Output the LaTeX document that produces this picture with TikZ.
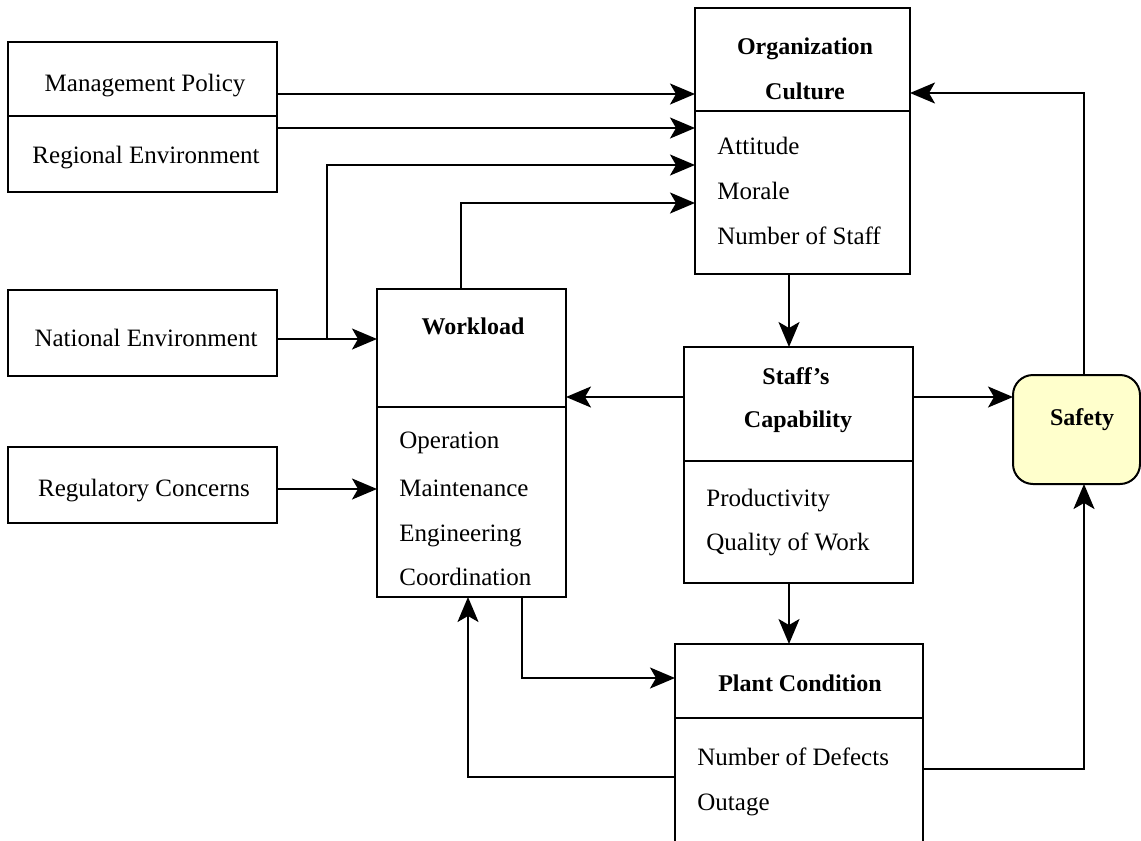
\documentclass[tikz,border=0pt]{standalone}
\usepackage{fontspec}
\setmainfont{Liberation Serif}
\usetikzlibrary{arrows.meta, positioning}
\definecolor{safetyfill}{RGB}{255,255,204}

\begin{document}
\begin{tikzpicture}[x=0.5pt, y=-0.5pt, >={Stealth[length=12.5pt, width=10.5pt, inset=3pt]},
    box/.style={draw, line width=1pt, inner sep=0pt, outer sep=0pt},
    item/.style={anchor=base west, inner sep=0pt, font=\fontsize{12.5}{15}\selectfont},
    plain/.style={anchor=base, inner sep=0pt, font=\fontsize{12.5}{15}\selectfont},
    title/.style={anchor=base, inner sep=0pt, font=\fontsize{12}{15}\selectfont\bfseries},
    link/.style={->, line width=1pt}]
    \useasboundingbox (0,0) rectangle (1141,841);
    \clip (0,0) rectangle (1141,841);

    % Outside influences
    \node[box, minimum width=134.5pt, minimum height=37pt] (mgmt) at (142.5,79) {};
    \node[box, minimum width=134.5pt, minimum height=38pt] (regional) at (142.5,154) {};
    \node[box, minimum width=134.5pt, minimum height=43pt] (national) at (142.5,333) {};
    \node[box, minimum width=134.5pt, minimum height=38pt] (regulatory) at (142.5,485) {};
    \node[plain] at (145,91) {Management Policy};
    \node[plain] at (146,163) {Regional Environment};
    \node[plain] at (146,346) {National Environment};
    \node[plain] at (144,496) {Regulatory Concerns};

    % Organization culture
    \node[box, minimum width=107.5pt, minimum height=133pt] (org) at (802.5,141) {};
    \draw[line width=1pt] (org.west |- 0,111) -- (org.east |- 0,111);
    \node[title] at (805,54) {Organization};
    \node[title] at (805,99) {Culture};
    \node[item] at (717,154) {Attitude};
    \node[item] at (717,199) {Morale};
    \node[item] at (717,244) {Number of Staff};

    % Workload
    \node[box, minimum width=94.5pt, minimum height=154pt] (workload) at (471.5,443) {};
    \draw[line width=1pt] (workload.west |- 0,407) -- (workload.east |- 0,407);
    \node[title] at (473,334) {Workload};
    \node[item] at (399,448) {Operation};
    \node[item] at (399,496) {Maintenance};
    \node[item] at (399,541) {Engineering};
    \node[item] at (399,585) {Coordination};

    % Staff's capability
    \node[box, minimum width=114.5pt, minimum height=118pt] (staff) at (798.5,465) {};
    \draw[line width=1pt] (staff.west |- 0,461) -- (staff.east |- 0,461);
    \node[title] at (796,384) {Staff’s};
    \node[title] at (798,427) {Capability};
    \node[item] at (706,506) {Productivity};
    \node[item] at (706,550) {Quality of Work};

    % Plant condition
    \node[box, minimum width=124pt, minimum height=108pt] (plant) at (799,752) {};
    \draw[line width=1pt] (plant.west |- 0,718) -- (plant.east |- 0,718);
    \node[title] at (800,691) {Plant Condition};
    \node[item] at (697,765) {Number of Defects};
    \node[item] at (697,810) {Outage};

    % Safety
    \node[box, fill=safetyfill, rounded corners=10pt, minimum width=63.5pt, minimum height=54.5pt] (safety) at (1076.5,429.5) {};
    \node[title] at (1082,425) {Safety};

    % Connectors
    \coordinate (natsplit) at (327,339);
    \draw[link] (mgmt.east |- 0,94) -- (org.west |- 0,94);
    \draw[link] (regional.east |- 0,128) -- (org.west |- 0,128);
    \draw[link] (national.east |- 0,339) -- (workload.west |- 0,339);
    \draw[link] (natsplit) |- (org.west |- 0,165);
    \draw[link] (workload.north -| 461,0) |- (org.west |- 0,203);
    \draw[link] (regulatory.east |- 0,489) -- (workload.west |- 0,489);
    \draw[link] (org.south -| 789,0) -- (staff.north -| 789,0);
    \draw[link] (safety.north -| 1084,0) |- (org.east |- 0,93);
    \draw[link] (staff.west |- 0,397) -- (workload.east |- 0,397);
    \draw[link] (staff.east |- 0,397) -- (safety.west |- 0,397);
    \draw[link] (staff.south -| 789,0) -- (plant.north -| 789,0);
    \draw[link] (workload.south -| 522,0) |- (plant.west |- 0,678);
    \draw[link] (plant.west |- 0,777) -| (workload.south -| 468,0);
    \draw[link] (plant.east |- 0,769) -| (safety.south -| 1084,0);
\end{tikzpicture}
\end{document}
